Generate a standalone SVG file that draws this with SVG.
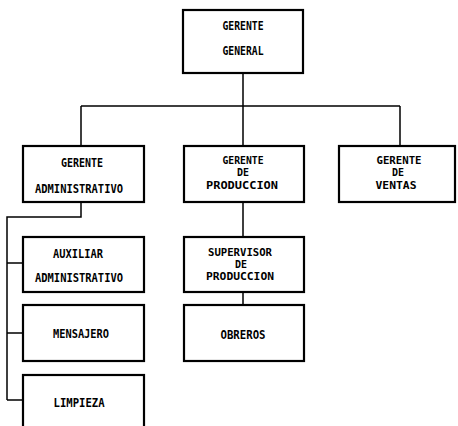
<svg xmlns="http://www.w3.org/2000/svg" width="458" height="426" viewBox="0 0 458 426">
<style>
.box{fill:#fff;stroke:#000;stroke-width:2.2}
.ln{fill:none;stroke:#000;stroke-width:1.5}
text{font-family:"DejaVu Sans Mono","Liberation Mono",monospace;font-weight:bold;font-size:12px;fill:#000;text-anchor:middle}
text.s{font-size:10px}
</style>
<rect width="458" height="426" fill="#fff"/>
<g id="connectors" class="ln">
<path d="M243 73V146M81 106H400M81 106V146M400 106V146"/>
<path d="M81 202V217H7V400M7 263H22M7 333H22M7 400H22"/>
<path d="M243 202V237M243 292V305"/>
</g>
<g id="gerente-general">
<rect class="box" x="183" y="10" width="120" height="63"/>
<text x="243" y="30" textLength="41" lengthAdjust="spacingAndGlyphs">GERENTE</text>
<text x="243" y="55" textLength="41" lengthAdjust="spacingAndGlyphs">GENERAL</text>
</g>
<g id="gerente-administrativo">
<rect class="box" x="23" y="146" width="121" height="56"/>
<text x="82" y="167" textLength="42" lengthAdjust="spacingAndGlyphs">GERENTE</text>
<text x="79" y="193" textLength="88" lengthAdjust="spacingAndGlyphs">ADMINISTRATIVO</text>
</g>
<g id="gerente-produccion">
<rect class="box" x="184" y="146" width="120" height="56"/>
<text class="s" x="243" y="164" textLength="41" lengthAdjust="spacingAndGlyphs">GERENTE</text>
<text class="s" x="243" y="176" textLength="12" lengthAdjust="spacingAndGlyphs">DE</text>
<text class="s" x="242" y="189" textLength="72" lengthAdjust="spacingAndGlyphs">PRODUCCION</text>
</g>
<g id="gerente-ventas">
<rect class="box" x="339" y="146" width="116" height="56"/>
<text class="s" x="399" y="164" textLength="45" lengthAdjust="spacingAndGlyphs">GERENTE</text>
<text class="s" x="398" y="176" textLength="12" lengthAdjust="spacingAndGlyphs">DE</text>
<text class="s" x="396" y="189" textLength="41" lengthAdjust="spacingAndGlyphs">VENTAS</text>
</g>
<g id="auxiliar-administrativo">
<rect class="box" x="23" y="237" width="121" height="55"/>
<text x="78" y="258" textLength="50" lengthAdjust="spacingAndGlyphs">AUXILIAR</text>
<text x="79" y="282" textLength="88" lengthAdjust="spacingAndGlyphs">ADMINISTRATIVO</text>
</g>
<g id="mensajero">
<rect class="box" x="23" y="305" width="121" height="56"/>
<text x="81" y="338" textLength="56" lengthAdjust="spacingAndGlyphs">MENSAJERO</text>
</g>
<g id="limpieza">
<rect class="box" x="23" y="375" width="121" height="60"/>
<text x="79" y="407" textLength="51" lengthAdjust="spacingAndGlyphs">LIMPIEZA</text>
</g>
<g id="supervisor-produccion">
<rect class="box" x="184" y="237" width="120" height="55"/>
<text class="s" x="240" y="256" textLength="64" lengthAdjust="spacingAndGlyphs">SUPERVISOR</text>
<text class="s" x="241" y="268" textLength="12" lengthAdjust="spacingAndGlyphs">DE</text>
<text class="s" x="240" y="280" textLength="68" lengthAdjust="spacingAndGlyphs">PRODUCCION</text>
</g>
<g id="obreros">
<rect class="box" x="184" y="305" width="120" height="56"/>
<text x="243" y="339" textLength="45" lengthAdjust="spacingAndGlyphs">OBREROS</text>
</g>
</svg>
